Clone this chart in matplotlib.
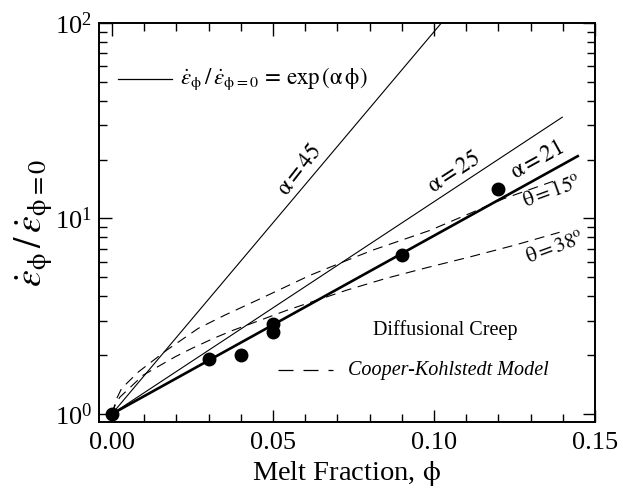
import matplotlib
matplotlib.use('Agg')
import matplotlib.pyplot as plt
from matplotlib.ticker import MultipleLocator, LogLocator, NullFormatter, FixedLocator

plt.rcParams['font.family'] = ['Liberation Serif', 'DejaVu Serif']
plt.rcParams['mathtext.fontset'] = 'stix'

# exp(alpha*phi) reference lines: start (0,1) and end points
line_labels = [r'$\mathrm{\alpha}=45$', r'$\mathrm{\alpha}=25$', r'$\mathrm{\alpha}=21$']
line_phi = [[0.0, 0.1023], [0.0, 0.140], [0.0, 0.145]]
line_val = [[1.0, 100.0], [1.0, 33.1], [1.0, 21.0]]

# measured points
data_phi = [0.0, 0.03, 0.04, 0.05, 0.05, 0.09, 0.12]
data_val = [1.0, 1.90, 2.0, 2.88, 2.63, 6.47, 14.2]

# Cooper-Kohlstedt model curves
ck15_phi = [0.0, 0.0015, 0.003, 0.0082, 0.017, 0.0268, 0.035, 0.047, 0.0615,
            0.075, 0.0811, 0.0988, 0.1122, 0.1215, 0.137]
ck15_val = [1.0, 1.2, 1.35, 1.64, 2.12, 2.74, 3.2, 3.95, 5.12,
            6.3, 6.9, 8.7, 10.8, 12.6, 15.5]
ck38_phi = [0.0, 0.0012, 0.0025, 0.0097, 0.0196, 0.0247, 0.0314, 0.0371, 0.0543,
            0.0729, 0.0853, 0.0977, 0.111, 0.125, 0.139]
ck38_val = [1.0, 1.13, 1.22, 1.58, 1.96, 2.16, 2.43, 2.66, 3.39,
            4.3, 4.95, 5.6, 6.35, 7.3, 8.5]

xticks = [0.0, 0.05, 0.10, 0.15]
xticklabels = ['0.00', '0.05', '0.10', '0.15']

fig = plt.figure(figsize=(6.23, 4.92), dpi=100)
ax = fig.add_axes([99/623, 1-422/492, (595-99)/623, (422-23)/492])

lws = [0.8, 0.8, 1.9]
for p, v, lw in zip(line_phi, line_val, lws):
    ax.plot(p, v, color='black', lw=lw, solid_capstyle='butt')

dash = (0, (9, 6))
ax.plot(ck15_phi, ck15_val, color='black', lw=0.8, linestyle=dash)
ax.plot(ck38_phi, ck38_val, color='black', lw=0.8, linestyle=dash)

ax.plot(data_phi, data_val, 'o', color='black', markersize=9, zorder=5)

ax.set_yscale('log')
ax.set_xlim(-0.004, 0.15)
ax.set_ylim(0.91, 100)

ax.xaxis.set_major_locator(FixedLocator(xticks))
ax.set_xticklabels(xticklabels)
ax.xaxis.set_minor_locator(MultipleLocator(0.01))
ax.yaxis.set_major_locator(LogLocator(base=10, numticks=10))
ax.yaxis.set_minor_locator(LogLocator(base=10, subs=[2, 3, 4, 5, 6, 7, 8, 9], numticks=10))
ax.yaxis.set_minor_formatter(NullFormatter())

ax.tick_params(which='both', direction='in', top=True, right=True, labelsize=19, width=1.0)
ax.tick_params(which='major', length=9)
ax.tick_params(which='minor', length=5.5)
ax.tick_params(axis='x', pad=7)
ax.tick_params(axis='y', pad=5)
for s in ax.spines.values():
    s.set_linewidth(1.4)

ax.set_xlabel(r'Melt Fraction, $\mathrm{\phi}$', fontsize=20.5, labelpad=4)
ax.set_ylabel(r'$\dot{\varepsilon}_{\mathrm{\phi}}\,/\,\dot{\varepsilon}_{\mathrm{\phi}=0}$',
              fontsize=27, labelpad=0)

# line labels
ax.text(0.0584, 17.6, line_labels[0], fontsize=16.5, rotation=52, ha='center', va='center')
ax.text(0.1062, 17.2, line_labels[1], fontsize=16.5, rotation=33, ha='center', va='center')
ax.text(0.132, 19.8, line_labels[2], fontsize=16.5, rotation=29, ha='center', va='center')
ax.text(0.1366, 13.6, r'$\mathrm{\theta}=15^{\mathrm{o}}$', fontsize=15, rotation=20, ha='center', va='center')
ax.text(0.1376, 7.03, r'$\mathrm{\theta}=38^{\mathrm{o}}$', fontsize=15, rotation=20, ha='center', va='center')

# legend-like annotations
ax.plot([0.038, 0.147], [0.860, 0.860], color='black', lw=0.9, transform=ax.transAxes)
ax.text(0.163, 0.860,
        r'$\dot{\varepsilon}_{\mathrm{\phi}}\,/\,\dot{\varepsilon}_{\mathrm{\phi}=0}\,=\,\mathrm{exp}\,(\mathrm{\alpha\,\phi})$',
        fontsize=16.5, ha='left', va='center', transform=ax.transAxes)

ax.text(0.698, 0.231, 'Diffusional Creep', fontsize=14.5, ha='center', va='center', transform=ax.transAxes)
ax.plot([0.361, 0.472], [0.130, 0.130], color='black', lw=0.9, linestyle=(0, (12, 8)),
        transform=ax.transAxes)
ax.text(0.502, 0.130, 'Cooper-Kohlstedt Model', fontsize=14.5, style='italic',
        ha='left', va='center', transform=ax.transAxes)

fig.savefig('out.png', dpi=100)
